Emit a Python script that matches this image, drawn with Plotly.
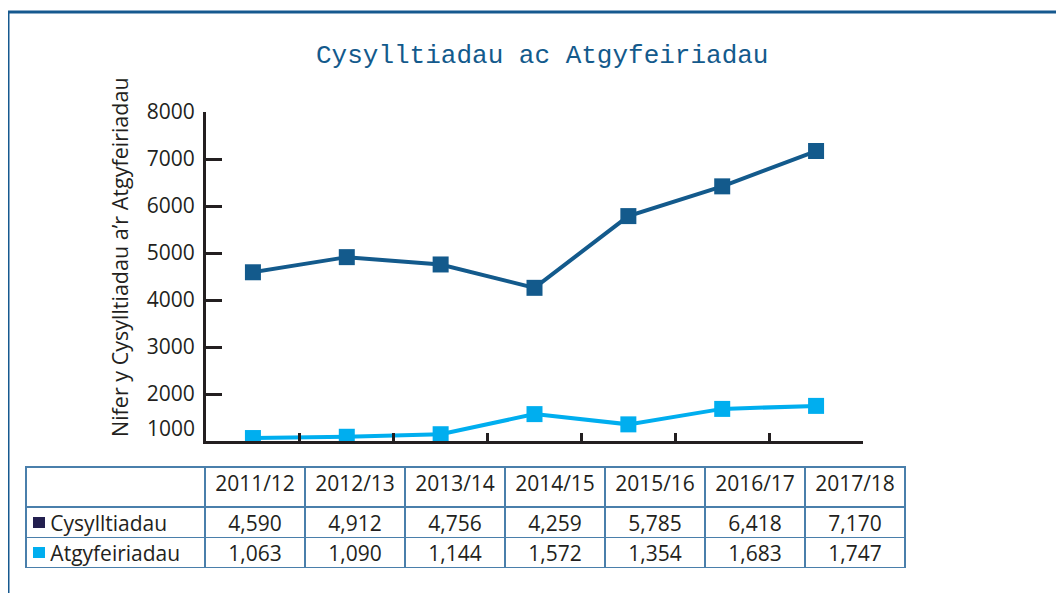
import plotly.graph_objects as go

# ---- data ----
years = ["2011/12", "2012/13", "2013/14", "2014/15", "2015/16", "2016/17", "2017/18"]
contacts = [4590, 4912, 4756, 4259, 5785, 6418, 7170]
referrals = [1063, 1090, 1144, 1572, 1354, 1683, 1747]
series_names = ["Cysylltiadau", "Atgyfeiriadau"]
y_ticks = [1000, 2000, 3000, 4000, 5000, 6000, 7000, 8000]

W, H = 1064, 593
OFF = 8  # page body margin in the browser
DARK = "#135a8c"
LIGHT = "#00aeef"
NAVY = "#231f4f"
TXT = "#231f20"
FRAME = "#16598f"
TBL = "#4a7fab"
SANS = "Open Sans, Noto Sans, sans-serif"
FS = 21

def px_x(p):
    return (p - OFF) / W

def px_y(p):
    return 1 - (p - OFF) / H

fig = go.Figure()
fig.add_trace(go.Scatter(
    x=years, y=contacts, mode="lines+markers", name=series_names[0],
    line=dict(color=DARK, width=4),
    marker=dict(symbol="square", size=16, color=DARK),
))
fig.add_trace(go.Scatter(
    x=years, y=referrals, mode="lines+markers", name=series_names[1],
    line=dict(color=LIGHT, width=4),
    marker=dict(symbol="square", size=16, color=LIGHT),
))

# table below the chart
first_col = ["\u00a0\u00a0\u00a0" + n for n in series_names]
cols = [first_col] + [[f"{c:,}", f"{r:,}"] for c, r in zip(contacts, referrals)]
fig.add_trace(go.Table(
    domain=dict(x=[px_x(26), px_x(905)], y=[px_y(568), px_y(467)]),
    columnwidth=[179] + [100] * len(years),
    header=dict(values=[""] + years, height=40,
                align="center", line=dict(color=TBL, width=1.5),
                fill=dict(color="white"),
                font=dict(family=SANS, size=FS, color=TXT)),
    cells=dict(values=cols, height=30.5,
               align=["left"] + ["center"] * len(years),
               line=dict(color=TBL, width=1.5),
               fill=dict(color="white"),
               font=dict(family=SANS, size=FS, color=TXT)),
))

# legend swatches inside the table's first column
swatches = []
for color, top in [(NAVY, 517), (LIGHT, 547)]:
    swatches.append(dict(type="rect", xref="paper", yref="paper",
                         x0=px_x(33), x1=px_x(45), y0=px_y(top + 11), y1=px_y(top),
                         fillcolor=color, line=dict(width=0)))

fig.update_layout(
    width=W, height=H,
    margin=dict(l=0, r=0, t=0, b=0, autoexpand=False),
    paper_bgcolor="white", plot_bgcolor="white",
    showlegend=False,
    xaxis=dict(
        domain=[px_x(206), px_x(863)],
        type="category", range=[-0.5, len(years) - 0.5],
        showticklabels=False, showgrid=False, zeroline=False,
        ticks="inside", tickson="boundaries", ticklen=8, tickwidth=3, tickcolor=TXT,
        showline=True, linecolor=TXT, linewidth=3,
    ),
    yaxis=dict(
        domain=[px_y(441), px_y(112)],
        range=[y_ticks[0], y_ticks[-1]],
        tickvals=y_ticks[1:], ticktext=[str(v) for v in y_ticks[1:]],
        ticks="inside", ticklen=16, tickwidth=3, tickcolor=TXT,
        showgrid=False, zeroline=False,
        showline=True, linecolor=TXT, linewidth=3,
        tickfont=dict(family=SANS, size=FS, color=TXT),
        ticklabelstandoff=4,
    ),
    shapes=[
        dict(type="line", xref="paper", yref="paper", x0=px_x(8), x1=1.0,
             y0=px_y(12), y1=px_y(12), line=dict(color=FRAME, width=3)),
        dict(type="line", xref="paper", yref="paper", x0=px_x(8), x1=px_x(8),
             y0=px_y(12), y1=0, line=dict(color=FRAME, width=3)),
    ] + swatches,
    annotations=[
        dict(text="Cysylltiadau ac Atgyfeiriadau", xref="paper", yref="paper",
             x=px_x(542), y=px_y(56), showarrow=False, xanchor="center", yanchor="middle",
             font=dict(family="Liberation Mono, Courier New, monospace", size=26, color=DARK)),
        dict(text="Nifer y Cysylltiadau a\u2019r Atgyfeiriadau", xref="paper", yref="paper",
             x=px_x(120), y=px_y(257), textangle=-90, showarrow=False,
             xanchor="center", yanchor="middle",
             font=dict(family=SANS, size=21.5, color=TXT)),
        dict(text=str(y_ticks[0]), xref="paper", yref="y",
             x=px_x(197), y=y_ticks[0], yshift=13, showarrow=False,
             xanchor="right", yanchor="middle",
             font=dict(family=SANS, size=FS, color=TXT)),
    ],
)

fig.write_html("out.html")
